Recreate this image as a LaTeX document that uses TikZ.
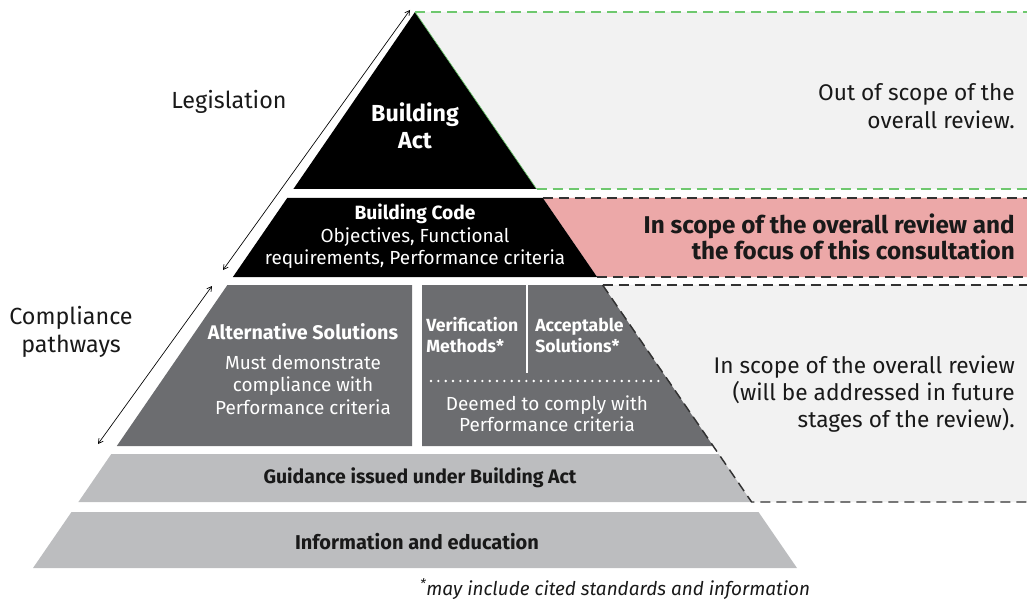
\documentclass[tikz,border=0pt]{standalone}
\usepackage{fontspec}
\setmainfont{Fira Sans}
\usetikzlibrary{arrows.meta}
\definecolor{pinkband}{RGB}{236,168,168}
\definecolor{bglight}{RGB}{242,242,242}
\definecolor{darkband}{RGB}{108,109,112}
\definecolor{lightband}{RGB}{188,189,191}
\definecolor{greendash}{RGB}{110,200,110}
\definecolor{dashgray}{RGB}{50,50,50}
\definecolor{inktext}{RGB}{25,25,25}
\begin{document}
\begin{tikzpicture}[x=0.75pt,y=-0.75pt,
  greenline/.style={draw=greendash,line width=1.1pt,dash pattern=on 7.5pt off 4.5pt},
  blackline/.style={draw=dashgray,line width=1.1pt,dash pattern=on 7.5pt off 4.5pt},
  sidelabel/.style={inner sep=0pt,align=center,text=inktext},
  scopetext/.style={inner sep=0pt,anchor=east,align=right,text=inktext},
  whitetext/.style={inner sep=0pt,align=center,text=white},
  bandtext/.style={inner sep=0pt,align=center,text=inktext,font=\bfseries\fontsize{14.6}{16}\selectfont},
  dimarrow/.style={draw=black,line width=0.5pt,{Straight Barb[length=3.5pt,width=4pt]}-{Straight Barb[length=3.5pt,width=4pt]}}]
\useasboundingbox (0,0) rectangle (1027,602);
% right-hand background regions
\fill[bglight] (415,12) -- (1027,12) -- (1027,189) -- (536.6,189) -- cycle;
\fill[pinkband] (542.8,198) -- (1027,198) -- (1027,277) -- (597.1,277) -- cycle;
\fill[bglight] (602.6,285) -- (1027,285) -- (1027,502) -- (751.6,502) -- cycle;
% pyramid bands
\fill[black] (415,12) -- (536.6,189) -- (293.4,189) -- cycle;
\fill[black] (287.2,198) -- (542.8,198) -- (597.1,277) -- (232.9,277) -- cycle;
\fill[darkband] (227.4,285) -- (412,285) -- (412,446) -- (116.8,446) -- cycle;
\fill[darkband] (422,285) -- (602.6,285) -- (713.2,446) -- (422,446) -- cycle;
\fill[lightband] (111.3,454) -- (718.7,454) -- (751.6,502) -- (78.4,502) -- cycle;
\fill[lightband] (71.5,512) -- (758.5,512) -- (797,568) -- (33,568) -- cycle;
% inner dividers
\draw[white,line width=1.5pt] (527,285) -- (527,373);
\draw[white,line width=2pt,line cap=round,dash pattern=on 0pt off 5.5pt] (431,381) -- (660,381);
% dashed boundaries
\draw[greendash,line width=0.5pt] (415,12) -- (536.6,189);
\draw[greenline] (415,12) -- (1027,12);
\draw[greenline] (536.6,189) -- (1027,189);
\draw[blackline] (542.8,198) -- (1027,198);
\draw[blackline] (597.1,277) -- (1027,277);
\draw[blackline] (602.6,285) -- (1027,285);
\draw[blackline] (602.6,285) -- (751.6,502) -- (1027,502);
% arrows
\coordinate (legtop) at (410,10);
\coordinate (legbot) at (223,270);
\coordinate (comtop) at (212,286);
\coordinate (combot) at (98,444);
\draw[dimarrow] (legtop) -- (legbot);
\draw[dimarrow] (comtop) -- (combot);
% left labels
\node[sidelabel,font=\fontsize{17.5}{21}\selectfont] (legis) at (229,102) {Legislation};
\node[sidelabel,font=\fontsize{17.5}{21}\selectfont] (compl) at (71,332) {Compliance\\pathways};
% pyramid texts
\node[whitetext,font=\bfseries\fontsize{17.4}{20}\selectfont] (act) at (415,126) {Building\\Act};
\node[whitetext,font=\bfseries\fontsize{14.4}{16}\selectfont] (codetitle) at (415,214) {Building Code};
\node[whitetext,font=\fontsize{14.2}{16.5}\selectfont] (codebody) at (415,248) {Objectives, Functional\\requirements, Performance criteria};
\node[whitetext,font=\bfseries\fontsize{14.8}{16}\selectfont] (alttitle) at (303,332) {Alternative Solutions};
\node[whitetext,font=\fontsize{14.2}{17}\selectfont] (altbody) at (303,385) {Must demonstrate\\compliance with\\Performance criteria};
\node[whitetext,align=left,anchor=west,font=\bfseries\fontsize{13.2}{15.75}\selectfont] (verif) at (426,335.5) {Verification\\Methods*};
\node[whitetext,align=left,anchor=west,font=\bfseries\fontsize{13.2}{15.75}\selectfont] (accept) at (535,335.5) {Acceptable\\Solutions*};
\node[whitetext,font=\fontsize{14.2}{15.75}\selectfont] (deemed) at (547,413.5) {Deemed to comply with\\Performance criteria};
\node[bandtext] (guidance) at (420,478) {Guidance issued under Building Act};
\node[bandtext,font=\bfseries\fontsize{15}{16}\selectfont] (info) at (417,542) {Information and education};
% right texts
\node[scopetext,font=\fontsize{17}{21}\selectfont] (outscope) at (1015,106) {Out of scope of the\\overall review.};
\node[scopetext,font=\bfseries\fontsize{18.2}{19.5}\selectfont] (focus) at (1015,237) {In scope of the overall review and\\the focus of this consultation};
\node[scopetext,font=\fontsize{17}{20}\selectfont] (future) at (1015,394) {In scope of the overall review\\(will be addressed in future\\stages of the review).};
% footnote
\node[inner sep=0pt,text=inktext,font=\itshape\fontsize{14.2}{15}\selectfont] (foot) at (615,589) {\textsuperscript{*}may include cited standards and information};
\end{tikzpicture}
\end{document}
